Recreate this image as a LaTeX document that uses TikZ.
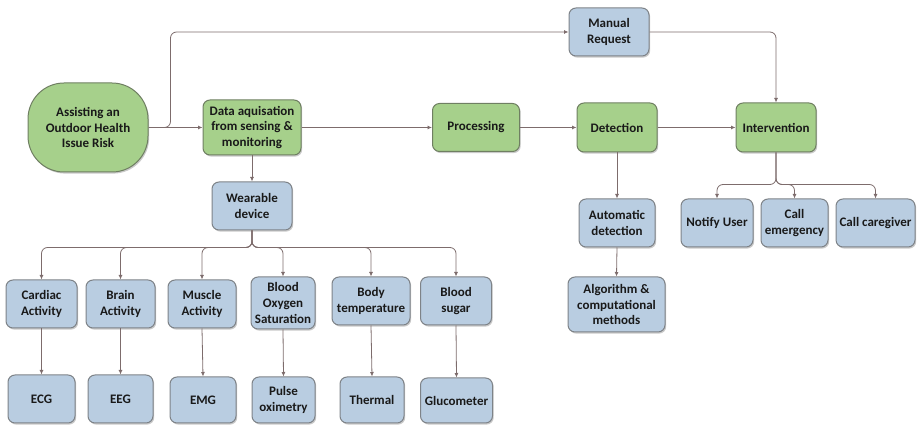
\documentclass[tikz,border=0pt]{standalone}
\usepackage{fontspec}
\setmainfont{Carlito}
\usetikzlibrary{arrows.meta,shadows}
\definecolor{greenfill}{HTML}{A6D08B}
\definecolor{greenline}{HTML}{6F7F62}
\definecolor{bluefill}{HTML}{B9CDE1}
\definecolor{blueline}{HTML}{7E8388}
\definecolor{wire}{HTML}{7D6C6C}
\begin{document}
\begin{tikzpicture}[x=1pt,y=-1pt,
  base/.style={draw, line width=1pt, rounded corners=7pt, align=center,
    font=\bfseries\fontsize{13}{15.8}\selectfont, inner sep=1pt, text=black!90,
    drop shadow={shadow xshift=1.2pt, shadow yshift=-1.6pt, opacity=0.35, fill=black!60}},
  gbox/.style={base, fill=greenfill, draw=greenline},
  bbox/.style={base, fill=bluefill, draw=blueline},
  conn/.style={draw=wire, line width=0.8pt, rounded corners=6pt,
    -{Latex[length=4.5pt,width=4pt]}}]
\useasboundingbox (0,0) rectangle (919,427);

% main green flow
\node[gbox, rounded corners=36pt, minimum width=120pt, minimum height=89pt] (root) at (88,127.5)
  {Assisting an\\Outdoor Health\\Issue Risk};
\node[gbox, minimum width=98pt, minimum height=55pt] (data) at (252,127.5)
  {Data aquisation\\from sensing \&\\monitoring};
\node[gbox, minimum width=87pt, minimum height=48pt] (proc) at (476,127.5) {Processing};
\node[gbox, minimum width=80pt, minimum height=49pt] (detect) at (617,127.5) {Detection};
\node[gbox, minimum width=80pt, minimum height=49pt] (interv) at (776,127.5) {Intervention};

% upper branch
\node[bbox, minimum width=80pt, minimum height=48pt] (manual) at (609,32) {Manual\\Request};

% sensing branch
\node[bbox, minimum width=80pt, minimum height=48pt] (wear) at (252,206) {Wearable\\device};

\node[bbox, minimum width=71pt, minimum height=48pt] (cardiac) at (41.5,304) {Cardiac\\Activity};
\node[bbox, minimum width=69pt, minimum height=48pt] (brain) at (120.5,304) {Brain\\Activity};
\node[bbox, minimum width=68pt, minimum height=48pt] (muscle) at (202,304) {Muscle\\Activity};
\node[bbox, minimum width=64pt, minimum height=52pt] (oxygen) at (283,303) {Blood\\Oxygen\\Saturation};
\node[bbox, minimum width=78pt, minimum height=48pt] (temp) at (371,301) {Body\\temperature};
\node[bbox, minimum width=71pt, minimum height=48pt] (sugar) at (456,301) {Blood\\sugar};

\node[bbox, minimum width=67pt, minimum height=48pt] (ecg) at (41.5,399) {ECG};
\node[bbox, minimum width=65pt, minimum height=48pt] (eeg) at (120.5,399) {EEG};
\node[bbox, minimum width=66pt, minimum height=46pt] (emg) at (203,400) {EMG};
\node[bbox, minimum width=63pt, minimum height=46pt] (pulse) at (283.5,400) {Pulse\\oximetry};
\node[bbox, minimum width=64pt, minimum height=46pt] (thermal) at (372,400) {Thermal};
\node[bbox, minimum width=72pt, minimum height=45pt] (gluco) at (456.5,400.5) {Glucometer};

% detection branch
\node[bbox, minimum width=76pt, minimum height=48pt] (auto) at (617,223) {Automatic\\detection};
\node[bbox, minimum width=97pt, minimum height=55pt] (algo) at (616.5,304.5) {Algorithm \&\\computational\\methods};

% intervention branch
\node[bbox, minimum width=72pt, minimum height=48pt] (notify) at (717,223) {Notify User};
\node[bbox, minimum width=67pt, minimum height=48pt] (emerg) at (794.5,223) {Call\\emergency};
\node[bbox, minimum width=79pt, minimum height=48pt] (care) at (875.5,223) {Call caregiver};

% connectors along the main flow
\draw[conn] (root.east) -- (data.west);
\draw[conn] (data.east) -- (proc.west);
\draw[conn] (proc.east) -- (detect.west);
\draw[conn] (detect.east) -- (interv.west);

% manual request loop
\draw[conn] (root.east) -- ++(22,0) |- (manual.west);
\draw[conn] (manual.east) -| (interv.north);

% sensing tree
\draw[conn] (data.south) -- (wear.north);
\foreach \n in {cardiac,brain,muscle,oxygen,temp,sugar}
  \draw[conn] (wear.south) -- ++(0,17) -| (\n.north);
\draw[conn] (cardiac.south) -- (ecg.north);
\draw[conn] (brain.south) -- (eeg.north);
\draw[conn] (muscle.south) -- (emg.north);
\draw[conn] (oxygen.south) -- (pulse.north);
\draw[conn] (temp.south) -- (thermal.north);
\draw[conn] (sugar.south) -- (gluco.north);

% detection chain
\draw[conn] (detect.south) -- (auto.north);
\draw[conn] (auto.south) -- (algo.north);

% intervention outcomes
\foreach \n in {notify,emerg,care}
  \draw[conn] (interv.south) -- ++(0,32) -| (\n.north);
\end{tikzpicture}
\end{document}
